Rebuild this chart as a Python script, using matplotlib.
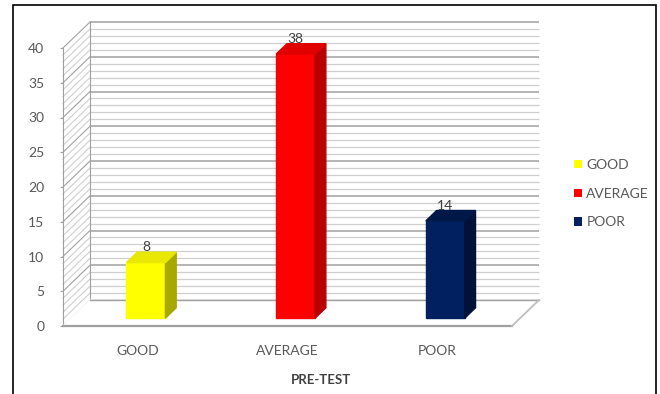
import matplotlib
matplotlib.use("Agg")
import matplotlib.pyplot as plt
from matplotlib.patches import Patch, Rectangle

plt.rcParams['font.family'] = ['Lato', 'DejaVu Sans']

categories = ["GOOD", "AVERAGE", "POOR"]
values = [8, 38, 14]
front_colors = ["#FFFF00", "#FF0000", "#002060"]
side_colors = ["#A8A800", "#B80000", "#00123A"]
top_colors = ["#E8E800", "#E00000", "#001848"]
yticks = [0, 5, 10, 15, 20, 25, 30, 35, 40]
xlabel = "PRE-TEST"

W, H = 660, 394
fig = plt.figure(figsize=(W / 100, H / 100), dpi=100)
ax = fig.add_axes([63 / W, 68 / H, 449 / W, 278 / H])
ax.set_xlim(-0.5, 2.5)
ax.set_ylim(0, 40)
for s in ax.spines.values():
    s.set_visible(False)

# depth offsets in data units
DX = 27 / (449 / 3)
DY = 26 / (278 / 40)
f0, f1 = 0.3, 0.7
bw = 0.26

minor_c = "#CFCFCF"
major_c = "#A0A0A0"
x_left, x_right = -0.5, 2.5
# back wall gridlines and side wall lines
for v in range(0, 41):
    c = major_c if v % 5 == 0 else minor_c
    lw = 1.1 if v % 5 == 0 else 0.9
    ax.plot([x_left + DX, x_right + DX], [v + DY, v + DY], color=c, lw=lw, clip_on=False, zorder=1,
            solid_capstyle="butt")
    ax.plot([x_left, x_left + DX], [v, v + DY], color=c, lw=0.8, clip_on=False, zorder=1)
ax.plot([x_left, x_left], [0, 40], color=major_c, lw=0.8, clip_on=False, zorder=1)
ax.plot([x_left + DX, x_left + DX], [DY, 40 + DY], color=major_c, lw=0.8, clip_on=False, zorder=1)
# floor
ax.fill([x_left, x_right, x_right + DX, x_left + DX], [0, 0, DY, DY], color="white", zorder=1.5, clip_on=False)
ax.plot([x_left, x_right], [0, 0], color=major_c, lw=1.6, clip_on=False, zorder=2)
ax.plot([x_right, x_right + DX], [0, DY], color="#BFBFBF", lw=1.3, clip_on=False, zorder=2)
ax.plot([x_left + DX, x_right + DX], [DY, DY], color=major_c, lw=1.0, clip_on=False, zorder=1.6)

# bars
ddx = DX * (f1 - f0)
ddy = DY * (f1 - f0)
for i, v in enumerate(values):
    x0 = i - bw / 2 + DX * f0
    x1 = i + bw / 2 + DX * f0
    y0 = DY * f0
    y1 = v + DY * f0
    ax.fill([x0, x1, x1, x0], [y0, y0, y1, y1], color=front_colors[i], zorder=5, clip_on=False)
    ax.fill([x1, x1 + ddx, x1 + ddx, x1], [y0, y0 + ddy, y1 + ddy, y1], color=side_colors[i], zorder=5, clip_on=False)
    ax.fill([x0, x1, x1 + ddx, x0 + ddx], [y1, y1, y1 + ddy, y1 + ddy], color=top_colors[i], zorder=5, clip_on=False)
    ax.text(i + DX * f0, v + DY * f0 + 2.2, str(v), ha="center", va="center",
            fontsize=10, color="#404040", zorder=6)

ax.set_yticks(yticks)
ax.set_yticklabels([str(t) for t in yticks])
ax.tick_params(axis="y", length=2.5, color=major_c, pad=11, labelsize=10, labelcolor="#595959")
ax.set_xticks(range(len(categories)))
ax.set_xticklabels(categories)
ax.tick_params(axis="x", length=0, pad=14, labelsize=10, labelcolor="#595959")

fig.text(321 / W, 1 - 380 / H, xlabel, ha="center", va="center", fontsize=9.5,
         fontweight="bold", color="#404040")

handles = [Patch(facecolor=c, edgecolor="none") for c in front_colors]
fig.legend(handles, categories, loc="upper left", bbox_to_anchor=(567 / W, 1 - 152 / H),
           frameon=False, handlelength=0.55, handleheight=0.55, handletextpad=0.35,
           labelspacing=1.2, borderpad=0, fontsize=10, labelcolor="#595959")

fig.add_artist(Rectangle((13 / W, -0.1), (656 - 13) / W, 1.1 - 5 / H, transform=fig.transFigure,
                         fill=False, edgecolor="black", lw=1.2))

fig.savefig("out.png", dpi=100)
